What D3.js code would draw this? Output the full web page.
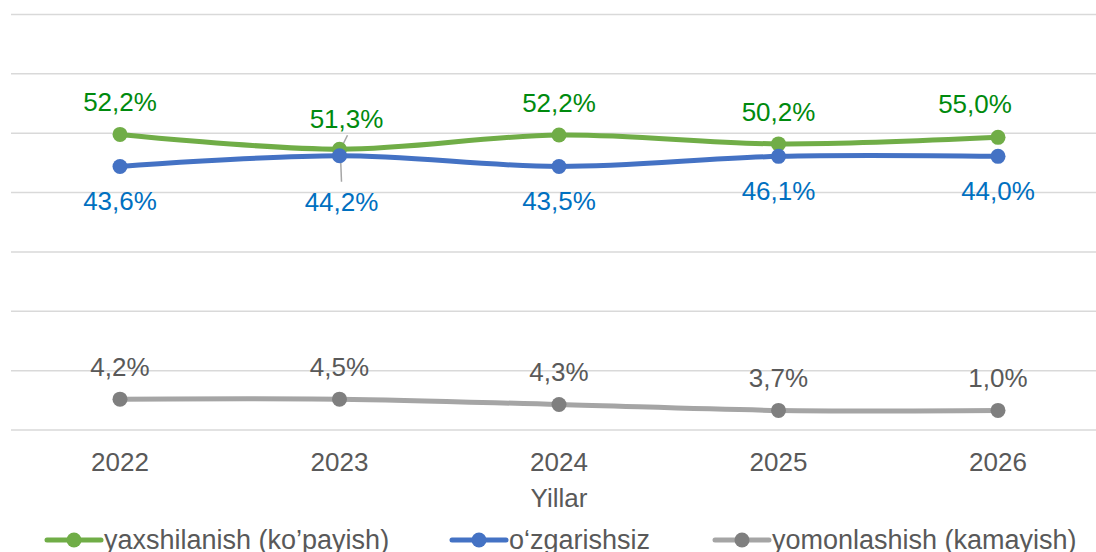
<!DOCTYPE html>
<html lang="uz">
<head>
<meta charset="UTF-8">
<title>Yillar</title>
<script src="https://cdn.jsdelivr.net/npm/d3@7"></script>
<style>
body { margin: 0; background: #fff; }
svg { display: block; font-family: 'Liberation Sans', Arial, sans-serif; }
</style>
</head>
<body>
<svg width="1096" height="552"></svg>
<script>
// data
const years = ["2022", "2023", "2024", "2025", "2026"];
const seriesNames = ["yaxshilanish (ko’payish)", "o‘zgarishsiz", "yomonlashish (kamayish)"];
// plotted positions (value axis 0..70)
const improved = [49.8, 47.3, 49.7, 48.2, 49.3];
const unchanged = [44.4, 46.2, 44.4, 46.1, 46.1];
const worsened = [5.2, 5.2, 4.3, 3.3, 3.3];
// label texts as printed
const improvedLabels = ["52,2%", "51,3%", "52,2%", "50,2%", "55,0%"];
const unchangedLabels = ["43,6%", "44,2%", "43,5%", "46,1%", "44,0%"];
const worsenedLabels = ["4,2%", "4,5%", "4,3%", "3,7%", "1,0%"];
const yTicks = [0, 10, 20, 30, 40, 50, 60, 70];

const svg = d3.select("svg");

const x = d3.scalePoint().domain(years).range([120, 998]);
const y = d3.scaleLinear().domain([0, 70]).range([430, 14.5]);

// gridlines
svg.append("g").selectAll("line")
    .data(yTicks)
    .join("line")
    .attr("x1", 11).attr("x2", 1096)
    .attr("y1", d => y(d)).attr("y2", d => y(d))
    .attr("stroke", "#D9D9D9")
    .attr("stroke-width", 1.5);

const series = [
    { name: seriesNames[0], values: improved, labels: improvedLabels, line: "#70AD47", marker: "#70AD47", text: "#008A0E", pos: "above" },
    { name: seriesNames[1], values: unchanged, labels: unchangedLabels, line: "#4472C4", marker: "#4472C4", text: "#0070C0", pos: "below" },
    { name: seriesNames[2], values: worsened, labels: worsenedLabels, line: "#A5A5A5", marker: "#7F7F7F", text: "#595959", pos: "above" }
];

// labels that were dragged by hand in the original
const labelNudge = {
    "0-1": [7, 2],
    "0-4": [-23, -1],
    "1-1": [2, 11]
};

const line = d3.line()
    .x((d, i) => x(years[i]))
    .y(d => y(d))
    .curve(d3.curveCatmullRom.alpha(0.5));

// leader lines for moved labels (2023)
const leaders = svg.append("g").attr("stroke", "#A6A6A6").attr("stroke-width", 1.5);
leaders.append("line")
    .attr("x1", x("2023") + 8).attr("y1", y(improved[1]) - 14)
    .attr("x2", x("2023") + 1).attr("y2", y(improved[1]));
leaders.append("line")
    .attr("x1", x("2023") + 1).attr("y1", y(unchanged[1]))
    .attr("x2", x("2023") + 2).attr("y2", y(unchanged[1]) + 26);

series.forEach((s, si) => {
    svg.append("path")
        .datum(s.values)
        .attr("d", line)
        .attr("fill", "none")
        .attr("stroke", s.line)
        .attr("stroke-width", 5)
        .attr("stroke-linecap", "round");

    svg.append("g").selectAll("circle")
        .data(s.values)
        .join("circle")
        .attr("cx", (d, i) => x(years[i]))
        .attr("cy", d => y(d))
        .attr("r", 7.5)
        .attr("fill", s.marker);
});

series.forEach((s, si) => {
    svg.append("g").selectAll("text")
        .data(s.values)
        .join("text")
        .attr("x", (d, i) => x(years[i]) + (labelNudge[si + "-" + i] || [0, 0])[0])
        .attr("y", (d, i) => y(d) + (s.pos === "above" ? -23 : 44) + (labelNudge[si + "-" + i] || [0, 0])[1])
        .attr("text-anchor", "middle")
        .attr("font-size", 26)
        .attr("fill", s.text)
        .text((d, i) => s.labels[i]);
});

// x axis labels
svg.append("g").selectAll("text")
    .data(years)
    .join("text")
    .attr("x", d => x(d))
    .attr("y", 471)
    .attr("text-anchor", "middle")
    .attr("font-size", 26)
    .attr("fill", "#595959")
    .text(d => d);

svg.append("text")
    .attr("x", x("2024"))
    .attr("y", 507)
    .attr("text-anchor", "middle")
    .attr("font-size", 26)
    .attr("fill", "#595959")
    .text("Yillar");

// legend
const legendX = [47, 452, 715];
const legend = svg.append("g").selectAll("g")
    .data(series)
    .join("g")
    .attr("transform", (d, i) => `translate(${legendX[i]},540)`);
legend.append("line")
    .attr("x1", 0).attr("x2", 54)
    .attr("stroke", d => d.line)
    .attr("stroke-width", 5)
    .attr("stroke-linecap", "round");
legend.append("circle")
    .attr("cx", 27)
    .attr("r", 7.5)
    .attr("fill", d => d.marker);
legend.append("text")
    .attr("x", 57)
    .attr("y", 9)
    .attr("font-size", 27)
    .attr("fill", "#595959")
    .text(d => d.name);
</script>
</body>
</html>
